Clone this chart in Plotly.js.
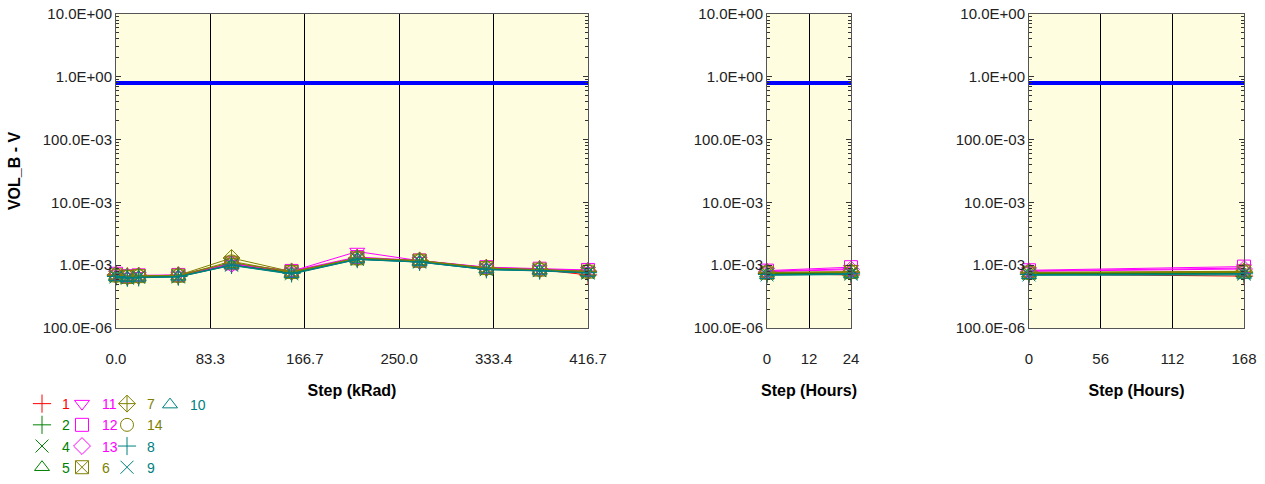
<!DOCTYPE html>
<html>
<head>
<meta charset="utf-8">
<script src="https://cdn.plot.ly/plotly-3.0.1.min.js"></script>
<style>html,body{margin:0;padding:0;background:#fff;}#chart{width:1265px;height:484px;}</style>
</head>
<body>
<div id="chart"></div>
<script>
// ---------- data ----------
const stepsKrad = [0, 10, 20, 55, 102, 155, 213, 268, 327, 374, 416.7];
const stepsHours24 = [0, 24];
const stepsHours168 = [0, 168];

const krTickVals = [0, 83.3, 166.7, 250.0, 333.4, 416.7];
const krTickText = ['0.0', '83.3', '166.7', '250.0', '333.4', '416.7'];
const h24TickVals = [0, 12, 24];
const h24TickText = ['0', '12', '24'];
const h168TickVals = [0, 56, 112, 168];
const h168TickText = ['0', '56', '112', '168'];

const yTickVals = [10, 1, 0.1, 0.01, 0.001, 0.0001];
const yTickText = ['10.0E+00', '1.0E+00', '100.0E-03', '10.0E-03', '1.0E-03', '100.0E-06'];

const limitLevel = 0.8;

const seriesNames = ['1', '2', '4', '5', '11', '12', '13', '6', '7', '14', '8', '9', '10'];
const seriesColors = ['#FF0000', '#008000', '#008000', '#008000', '#FF00FF', '#FF00FF', '#FF00FF',
                      '#808000', '#808000', '#808000', '#008080', '#008080', '#008080'];
const seriesSymbols = ['cross-thin-open', 'cross-thin-open', 'x-thin-open', 'triangle-up-open',
                       'triangle-down-open', 'square-open', 'diamond-open',
                       'square-x-open', 'diamond-cross-open', 'circle-open',
                       'cross-thin-open', 'x-thin-open', 'triangle-up-open'];
const seriesLegend = ['legend', 'legend', 'legend', 'legend', 'legend2', 'legend2', 'legend2',
                      'legend2', 'legend3', 'legend3', 'legend3', 'legend3', 'legend4'];

// values in volts (x 1e-3), one array per device
const radVals = {
  '1':  [0.70, 0.66, 0.67, 0.68, 1.05, 0.78, 1.30, 1.17, 0.90, 0.85, 0.70],
  '2':  [0.69, 0.65, 0.66, 0.67, 1.04, 0.77, 1.29, 1.16, 0.89, 0.84, 0.79],
  '4':  [0.68, 0.64, 0.66, 0.67, 1.03, 0.76, 1.28, 1.15, 0.88, 0.84, 0.78],
  '5':  [0.67, 0.64, 0.65, 0.67, 1.03, 0.75, 1.27, 1.15, 0.87, 0.83, 0.77],
  '11': [0.72, 0.66, 0.68, 0.69, 1.06, 0.80, 1.65, 1.18, 0.92, 0.87, 0.82],
  '12': [0.73, 0.67, 0.69, 0.70, 1.07, 0.81, 1.35, 1.19, 0.93, 0.88, 0.84],
  '13': [0.71, 0.66, 0.68, 0.69, 1.05, 0.79, 1.31, 1.17, 0.91, 0.86, 0.81],
  '6':  [0.69, 0.65, 0.67, 0.68, 1.10, 0.78, 1.29, 1.18, 0.90, 0.85, 0.79],
  '7':  [0.70, 0.66, 0.68, 0.69, 1.30, 0.79, 1.30, 1.19, 0.91, 0.86, 0.80],
  '14': [0.68, 0.65, 0.67, 0.68, 1.15, 0.77, 1.28, 1.17, 0.89, 0.85, 0.79],
  '8':  [0.66, 0.63, 0.64, 0.66, 1.01, 0.74, 1.25, 1.13, 0.86, 0.82, 0.76],
  '9':  [0.65, 0.62, 0.64, 0.65, 1.00, 0.73, 1.24, 1.12, 0.85, 0.82, 0.75],
  '10': [0.64, 0.62, 0.63, 0.65, 0.99, 0.72, 1.23, 1.12, 0.85, 0.81, 0.75]
};
const anneal24Vals = {
  '1':  [0.74, 0.70], '2':  [0.75, 0.76], '4':  [0.74, 0.75], '5':  [0.73, 0.75],
  '11': [0.80, 0.88], '12': [0.82, 0.93], '13': [0.79, 0.85],
  '6':  [0.76, 0.78], '7':  [0.77, 0.79], '14': [0.75, 0.77],
  '8':  [0.71, 0.73], '9':  [0.70, 0.72], '10': [0.69, 0.71]
};
const anneal168Vals = {
  '1':  [0.72, 0.67], '2':  [0.75, 0.76], '4':  [0.74, 0.75], '5':  [0.73, 0.74],
  '11': [0.81, 0.90], '12': [0.83, 0.95], '13': [0.80, 0.87],
  '6':  [0.76, 0.79], '7':  [0.77, 0.80], '14': [0.75, 0.77],
  '8':  [0.71, 0.73], '9':  [0.70, 0.72], '10': [0.69, 0.70]
};

// ---------- traces ----------
const scale = v => v.map(a => a * 1e-3);
const traces = [];
const blue = '#0000FF';
[['x', 'y', krTickVals], ['x2', 'y2', h24TickVals], ['x3', 'y3', h168TickVals]].forEach(([xa, ya, tv]) => {
  traces.push({
    x: [tv[0], tv[tv.length - 1]], y: [limitLevel, limitLevel],
    xaxis: xa, yaxis: ya, mode: 'lines', line: {color: blue, width: 4},
    showlegend: false, hoverinfo: 'skip'
  });
});
const panels = [
  {xa: 'x', ya: 'y', xs: stepsKrad, vals: radVals},
  {xa: 'x2', ya: 'y2', xs: stepsHours24, vals: anneal24Vals},
  {xa: 'x3', ya: 'y3', xs: stepsHours168, vals: anneal168Vals}
];
panels.forEach(p => {
  seriesNames.forEach((n, i) => {
    traces.push({
      x: p.xs, y: scale(p.vals[n]), xaxis: p.xa, yaxis: p.ya,
      type: 'scatter', mode: 'lines+markers', cliponaxis: false,
      legendgroup: 's' + n, showlegend: false,
      line: {color: seriesColors[i], width: 1},
      marker: {symbol: seriesSymbols[i], size: 13, color: seriesColors[i], line: {color: seriesColors[i], width: 1}}
    });
  });
});
// legend entries (marker only, as in the reference)
seriesNames.forEach((n, i) => {
  traces.push({
    x: [null], y: [null], xaxis: 'x', yaxis: 'y', type: 'scatter', mode: 'markers',
    legendgroup: 's' + n, legend: seriesLegend[i], showlegend: true,
    name: '<span style="color:' + seriesColors[i] + '">' + n + '</span>',
    marker: {symbol: seriesSymbols[i], size: 13, color: seriesColors[i], line: {color: seriesColors[i], width: 1}}
  });
});

// ---------- layout ----------
const W = 1265, H = 484;
const plotTop = 14, plotBottom = 328;
const yDom = [1 - plotBottom / H, 1 - plotTop / H];
const fam = 'Liberation Sans, Arial, sans-serif';
const tickFont = {family: fam, size: 15, color: '#222'};
const titleFont = {family: fam, size: 16, color: '#000', weight: 'bold'};

function yAxis(anchor, title) {
  return {
    type: 'log', range: [-4, 1], domain: yDom, anchor: anchor,
    tickvals: yTickVals, ticktext: yTickText, ticks: 'inside', ticklen: 5, tickcolor: '#333',
    minor: {ticks: 'inside', ticklen: 3, tickcolor: '#333', dtick: 'D1'},
    showgrid: false, zeroline: false, showline: true, linecolor: '#555', linewidth: 1, mirror: 'ticks',
    tickfont: tickFont, automargin: false,
    title: title ? {text: title, font: titleFont, standoff: 18} : undefined
  };
}
function xAxis(dom, anchor, tv, tt, title) {
  return {
    domain: dom, anchor: anchor, range: [tv[0], tv[tv.length - 1]],
    tickvals: tv, ticktext: tt, ticks: '', showgrid: true, gridcolor: '#000', gridwidth: 1,
    zeroline: false, showline: true, linecolor: '#555', linewidth: 1, mirror: true,
    tickfont: tickFont, ticklabelstandoff: 17, automargin: false,
    title: {text: title, font: titleFont, standoff: 18}
  };
}

const legendBase = {
  orientation: 'v', yanchor: 'bottom', xanchor: 'left', y: 0.002,
  bgcolor: 'rgba(0,0,0,0)', borderwidth: 0, tracegroupgap: 0,
  font: {family: fam, size: 14, color: '#000'}, itemwidth: 30
};

const layout = {
  width: W, height: H,
  margin: {l: 0, r: 0, t: 0, b: 0},
  paper_bgcolor: '#ffffff', plot_bgcolor: '#FFFDDF',
  font: tickFont, showlegend: true,
  xaxis: xAxis([116 / W, 588 / W], 'y', krTickVals, krTickText, 'Step (kRad)'),
  yaxis: yAxis('x', 'VOL_B - V'),
  xaxis2: xAxis([767 / W, 851 / W], 'y2', h24TickVals, h24TickText, 'Step (Hours)'),
  yaxis2: yAxis('x2', null),
  xaxis3: xAxis([1029 / W, 1244 / W], 'y3', h168TickVals, h168TickText, 'Step (Hours)'),
  yaxis3: yAxis('x3', null),
  legend: Object.assign({}, legendBase, {x: 22 / W}),
  legend2: Object.assign({}, legendBase, {x: 62 / W}),
  legend3: Object.assign({}, legendBase, {x: 107 / W}),
  legend4: Object.assign({}, legendBase, {x: 150 / W, yanchor: 'top', y: 1 - 389 / H})
};

Plotly.newPlot('chart', traces, layout, {staticPlot: true, displayModeBar: false});
</script>
</body>
</html>
